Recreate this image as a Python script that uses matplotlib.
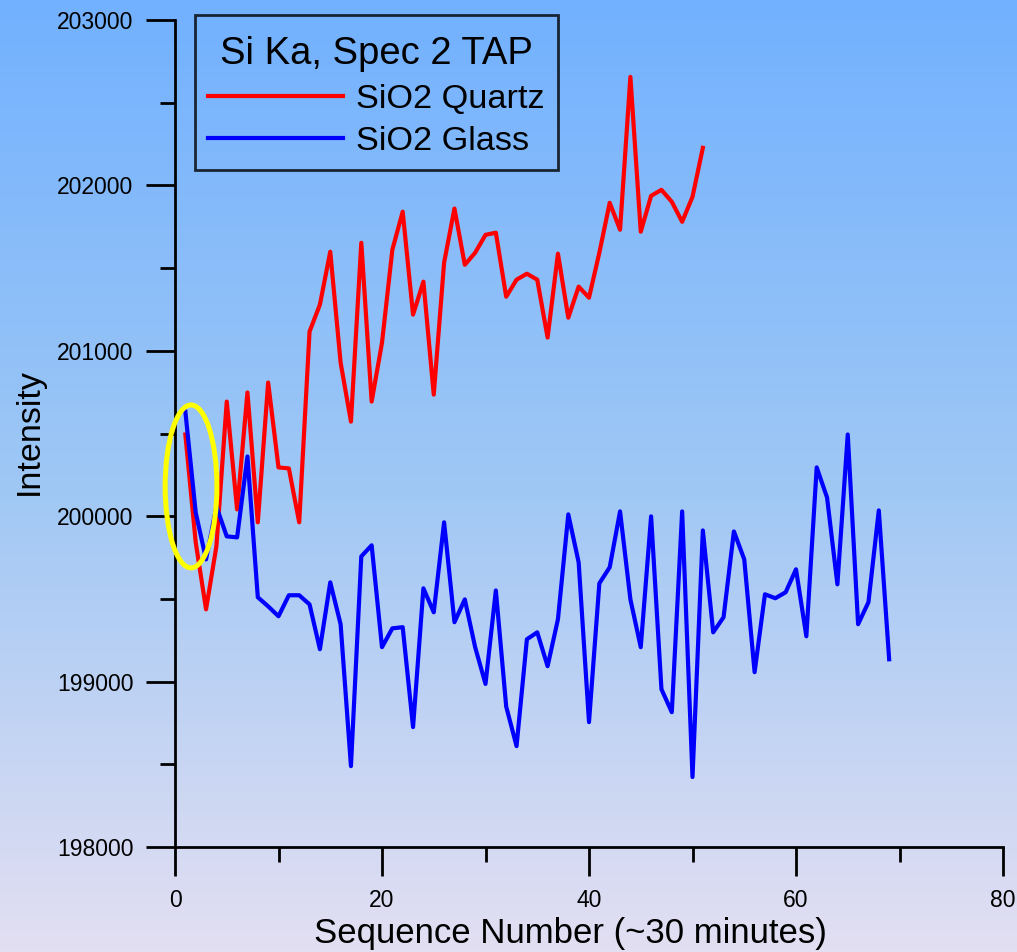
import numpy as np
import matplotlib.pyplot as plt
from matplotlib.colors import LinearSegmentedColormap
from matplotlib.patches import Ellipse
from matplotlib.offsetbox import PaddedBox
from matplotlib.ticker import MultipleLocator

plt.rcParams['font.family'] = ['Liberation Sans', 'DejaVu Sans']

# sequence numbers
seq_quartz = np.arange(1, 52)
seq_glass = np.arange(1, 70)

# intensities
quartz = [200494, 199842, 199437, 199818, 200693, 200041, 200748, 199963, 200808, 200295,
          200289, 199963, 201116, 201279, 201599, 200929, 200572, 201653, 200693, 201049,
          201611, 201841, 201219, 201418, 200735, 201533, 201860, 201520, 201593, 201701,
          201714, 201327, 201430, 201466, 201430, 201080, 201587, 201200, 201388, 201321,
          201593, 201895, 201732, 202656, 201720, 201937, 201973, 201901, 201780, 201931,
          202227]
glass = [200633, 200023, 199739, 200059, 199878, 199872, 200361, 199510, 199455, 199395,
         199522, 199522, 199467, 199196, 199600, 199347, 198489, 199757, 199824, 199208,
         199322, 199329, 198725, 199564, 199419, 199963, 199359, 199497, 199208, 198986,
         199551, 198849, 198610, 199256, 199298, 199093, 199377, 200011, 199721, 198755,
         199594, 199691, 200029, 199497, 199208, 199999, 198954, 198815, 200029, 198423,
         199914, 199298, 199389, 199908, 199739, 199057, 199528, 199504, 199540, 199679,
         199274, 200295, 200113, 199588, 200494, 199347, 199480, 200035, 199135]

# highlighted start region (yellow ring)
hl_center = (1.55, 200180)
hl_width = 5.0
hl_height = 985

fig = plt.figure(figsize=(10.17, 9.52), dpi=100)

# background gradient
bg = fig.add_axes([0, 0, 1, 1], zorder=-10)
cmap = LinearSegmentedColormap.from_list('bg', ['#72b1ff', '#9ec7f5', '#e3dff2'])
grad = np.linspace(0, 1, 256).reshape(-1, 1)
bg.imshow(grad, aspect='auto', cmap=cmap, extent=[0, 1, 0, 1], origin='upper')
bg.axis('off')

ax = fig.add_axes([175 / 1017, 105 / 952, 828 / 1017, 827 / 952])
ax.patch.set_alpha(0)

ax.plot(seq_quartz, quartz, color='#ff0000', lw=3, label='SiO2 Quartz')
ax.plot(seq_glass, glass, color='#0000ff', lw=3, label='SiO2 Glass')

ax.add_patch(Ellipse(hl_center, hl_width, hl_height, fill=False,
                     edgecolor='#ffff00', lw=3.6, zorder=5, clip_on=False))

ax.set_xlim(0, 80)
ax.set_ylim(198000, 203000)
ax.xaxis.set_major_locator(MultipleLocator(20))
ax.xaxis.set_minor_locator(MultipleLocator(10))
ax.yaxis.set_major_locator(MultipleLocator(1000))
ax.yaxis.set_minor_locator(MultipleLocator(500))

for s in ['top', 'right']:
    ax.spines[s].set_visible(False)
for s in ['left', 'bottom']:
    ax.spines[s].set_linewidth(2)

ax.tick_params(which='major', direction='out', length=21, width=2, labelsize=16.5, pad=9)
ax.tick_params(which='minor', direction='out', length=11, width=2)

ax.set_xlabel('Sequence Number (~30 minutes)', fontsize=25, va='center')
ax.set_ylabel('Intensity', fontsize=24.5)
ax.xaxis.set_label_coords(0.477, -0.104)
ax.yaxis.set_label_coords(-0.157, 0.502)

leg = ax.legend(title='Si Ka, Spec 2 TAP', loc='upper left', bbox_to_anchor=(0.0242, 1.006),
                fontsize=24.7, title_fontsize=27.5, frameon=True, fancybox=False,
                handlelength=3.93, handletextpad=0.38, borderpad=0.38, labelspacing=0.33,
                borderaxespad=0)
leg.get_frame().set_edgecolor('black')
leg.get_frame().set_linewidth(2)
leg.get_frame().set_facecolor('none')
# a bit more room above the legend title, less below it
title_box = PaddedBox(leg._legend_title_box, pad=5.8)
leg._legend_box._children[0] = title_box
leg._legend_box.sep = 2.4
leg._legend_box.set_figure(fig)

fig.savefig('out.png', dpi=100)
